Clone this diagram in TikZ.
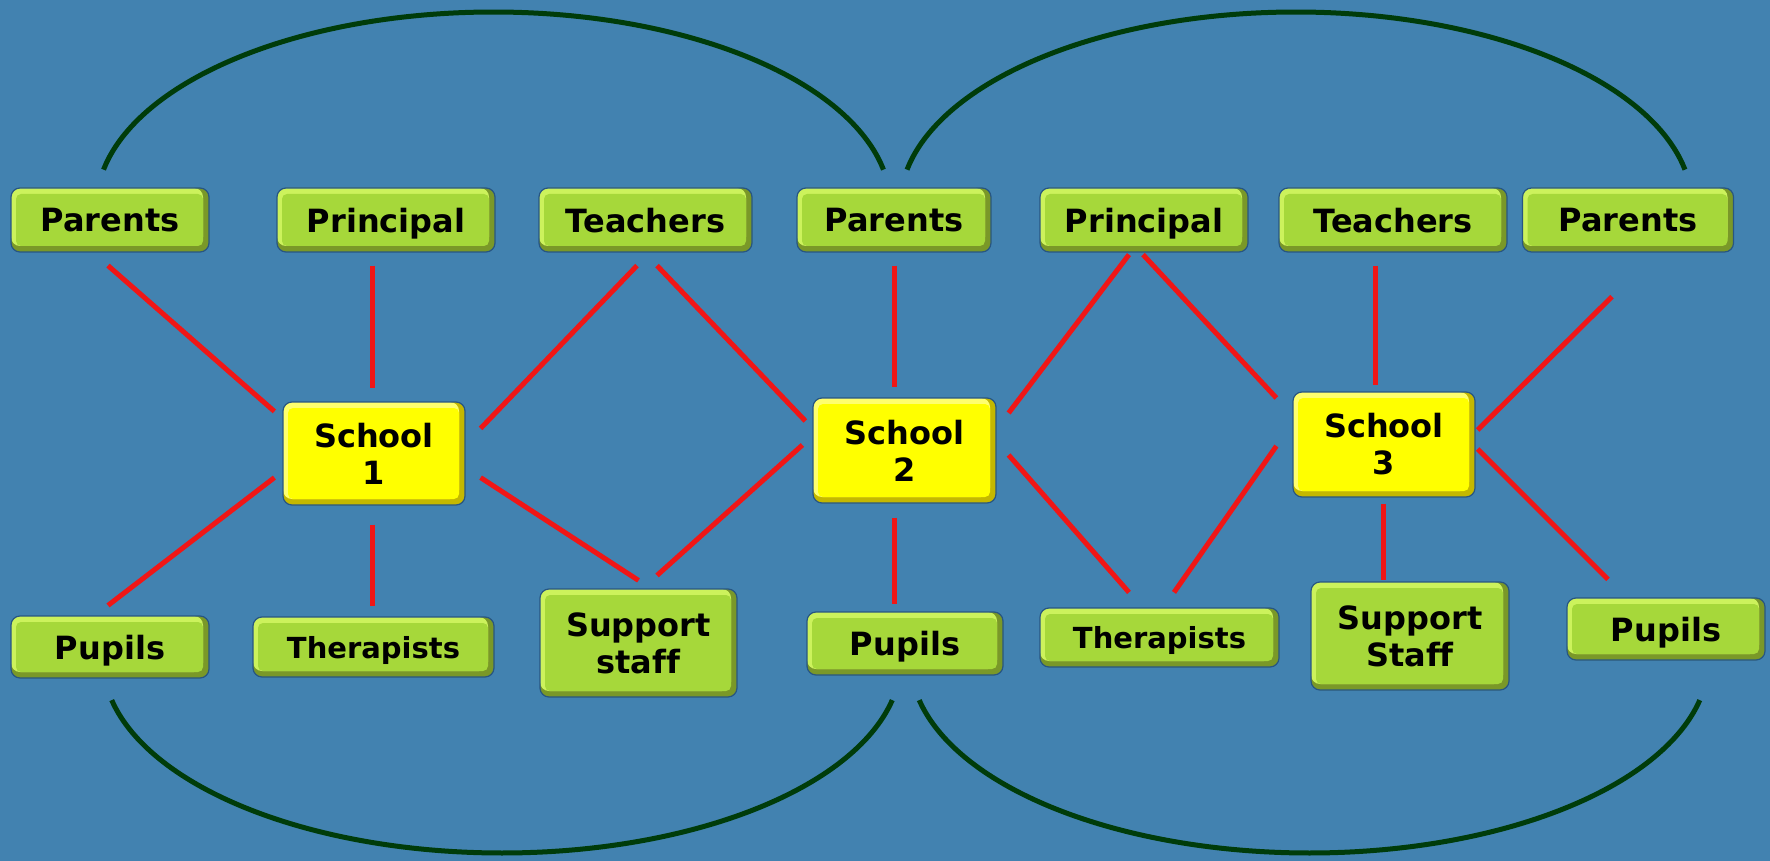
\documentclass[tikz,border=0pt]{standalone}
\usepackage{fontspec}
\newfontfamily\dvs{DejaVu Sans}[Ligatures=CommonOff]
\definecolor{bg}{RGB}{66,130,176}
\definecolor{arcgreen}{RGB}{0,60,10}
\definecolor{linkred}{RGB}{240,22,22}
\definecolor{gmid}{RGB}{166,216,58}
\definecolor{gtop}{RGB}{204,242,92}
\definecolor{gdark}{RGB}{122,152,40}
\definecolor{ymid}{RGB}{255,255,0}
\definecolor{ytop}{RGB}{255,255,110}
\definecolor{ydark}{RGB}{196,184,0}
\definecolor{boxedge}{RGB}{40,86,130}
\tikzset{
  box3d/.style n args={3}{rounded corners=9pt, fill=#3, draw=boxedge, line width=1.2pt,
    inner sep=0pt, align=center, text=black,
    font=\dvs\bfseries\fontsize{32}{37}\selectfont,
    path picture={
      \fill[#2] (path picture bounding box.north west) rectangle ([xshift=-6pt,yshift=6pt]path picture bounding box.south east);
      \fill[#1, rounded corners=5pt] ([xshift=5pt,yshift=-6pt]path picture bounding box.north west) rectangle ([xshift=-6pt,yshift=6pt]path picture bounding box.south east);
    }},
  gbox/.style={box3d={gmid}{gtop}{gdark}},
  ybox/.style={box3d={ymid}{ytop}{ydark}},
  oneline/.style={text depth=0pt},
  smalltext/.style={font=\dvs\bfseries\fontsize{29}{34}\selectfont},
  link/.style={draw=linkred, line width=5pt},
  loop/.style={draw=arcgreen, line width=5pt},
}
\begin{document}
\begin{tikzpicture}[x=1pt,y=-1pt]
\fill[bg] (0,0) rectangle (1770,861);
% top row
\node[gbox, oneline, minimum width=198pt, minimum height=64pt] (par1) at (110,220) {Parents};
\node[gbox, oneline, minimum width=218pt, minimum height=64pt] (pri1) at (386,220) {Principal};
\node[gbox, oneline, minimum width=213pt, minimum height=64pt] (tea1) at (645.5,220) {Teachers};
\node[gbox, oneline, minimum width=194pt, minimum height=64pt] (par2) at (894,220) {Parents};
\node[gbox, oneline, minimum width=208pt, minimum height=64pt] (pri2) at (1144,220) {Principal};
\node[gbox, oneline, minimum width=228pt, minimum height=64pt] (tea2) at (1393,220) {Teachers};
\node[gbox, oneline, minimum width=211pt, minimum height=64pt] (par3) at (1628,220) {Parents};
% schools
\node[ybox, minimum width=182pt, minimum height=103pt] (s1) at (374,453.5) {School\\1};
\node[ybox, minimum width=183pt, minimum height=105pt] (s2) at (904.5,450.5) {School\\2};
\node[ybox, minimum width=182pt, minimum height=105pt] (s3) at (1384,444.5) {School\\3};
% bottom row
\node[gbox, oneline, minimum width=198pt, minimum height=62pt] (pup1) at (110,647) {Pupils};
\node[gbox, oneline, smalltext, minimum width=241pt, minimum height=60pt] (ther1) at (373.5,647) {Therapists};
\node[gbox, minimum width=197pt, minimum height=108pt] (sup1) at (638.5,643) {Support\\staff};
\node[gbox, oneline, minimum width=196pt, minimum height=63pt] (pup2) at (905,643.5) {Pupils};
\node[gbox, oneline, smalltext, minimum width=239pt, minimum height=59pt] (ther2) at (1159.5,637.5) {Therapists};
\node[gbox, minimum width=198pt, minimum height=108pt] (sup2) at (1410,636) {Support\\Staff};
\node[gbox, oneline, minimum width=198pt, minimum height=62pt] (pup3) at (1666,629) {Pupils};
% red links
\draw[link] ([shift={(-2,13)}]par1.south) -- ([shift={(-8,10)}]s1.north west);
\draw[link] ([shift={(-14,13)}]pri1.south) -- ([shift={(-2,-13)}]s1.north);
\draw[link] ([shift={(-8.5,13)}]tea1.south) -- ([shift={(15,27)}]s1.north east);
\draw[link] ([shift={(-8,-28)}]s1.south west) -- ([shift={(-2,-10)}]pup1.north);
\draw[link] ([shift={(-2,19)}]s1.south) -- ([shift={(-1.5,-10)}]ther1.north);
\draw[link] ([shift={(15,-28)}]s1.south east) -- ([shift={(0,-8)}]sup1.north);
\draw[link] ([shift={(11.5,13)}]tea1.south) -- ([shift={(-7,-29.5)}]s2.west);
\draw[link] ([shift={(18.5,-13)}]sup1.north) -- ([shift={(-10,-5.5)}]s2.west);
\draw[link] ([shift={(0,13)}]par2.south) -- ([shift={(-10.5,-10)}]s2.north);
\draw[link] ([shift={(-10.5,14)}]s2.south) -- ([shift={(-11,-7)}]pup2.north);
\draw[link] ([shift={(12,-37.5)}]s2.east) -- ([shift={(-15,2)}]pri2.south);
\draw[link] ([shift={(12,4.5)}]s2.east) -- ([shift={(-30.5,-15)}]ther2.north);
\draw[link] ([shift={(-1,2)}]pri2.south) -- ([shift={(-16,-46.5)}]s3.west);
\draw[link] ([shift={(14.5,-15)}]ther2.north) -- ([shift={(-16,1.5)}]s3.west);
\draw[link] ([shift={(-18,13)}]tea2.south) -- ([shift={(-9,-6)}]s3.north);
\draw[link] ([shift={(-1,6)}]s3.south) -- ([shift={(-27,-1)}]sup2.north);
\draw[link] ([shift={(2,-14.5)}]s3.east) -- ([shift={(-16,44)}]par3.south);
\draw[link] ([shift={(2,4.5)}]s3.east) -- ([shift={(-58,-18)}]pup3.north);
% green loops
\draw[loop] plot[domain=10.8:169.2, samples=80, smooth] ({493.5+397*cos(\x)},{206-194*sin(\x)});
\draw[loop] plot[domain=10.8:169.2, samples=80, smooth] ({1296+396*cos(\x)},{206-194*sin(\x)});
\draw[loop] plot[domain=12:168, samples=80, smooth] ({502+399*cos(\x)},{660+193*sin(\x)});
\draw[loop] plot[domain=12:168, samples=80, smooth] ({1309.5+399*cos(\x)},{660+193*sin(\x)});
\end{tikzpicture}
\end{document}
